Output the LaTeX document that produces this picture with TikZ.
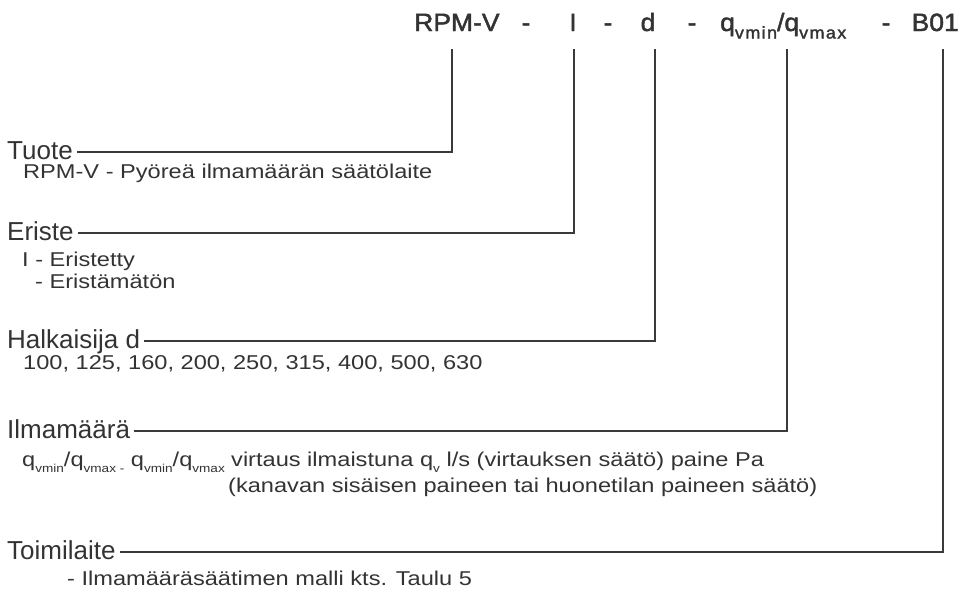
\documentclass[tikz,border=0pt]{standalone}
\usepackage{fontspec}
\setmainfont{Liberation Sans}
\newfontfamily\hdrfont[FakeStretch=1.06,FakeBold=1.8]{Liberation Sans}
\newfontfamily\subfont[FakeStretch=1.18]{Liberation Sans}
\newcommand\hlo[1]{\raisebox{-0.3em}{\fontsize{17}{17}\selectfont\addfontfeature{LetterSpace=8}#1}}
\newcommand\slo[1]{\raisebox{-0.3em}{\fontsize{11.5}{12}\selectfont #1}}
\definecolor{ink}{HTML}{333333}
\definecolor{wire}{HTML}{3A3A3A}
\begin{document}
\begin{tikzpicture}[x=1pt,y=-1pt,
  hdr/.style={inner sep=0pt,font=\hdrfont\fontsize{25}{29}\selectfont,text=ink},
  lab/.style={inner xsep=4pt,inner ysep=0pt,text height=14pt,text depth=0pt,font=\fontsize{26}{30}\selectfont,text=ink,anchor=base west},
  sub/.style={inner sep=0pt,font=\subfont\fontsize{20}{24}\selectfont,text=ink,anchor=base west},
  conn/.style={draw=wire,line width=2pt}]
\useasboundingbox (0,0) rectangle (962,595);
% header
\node[hdr,anchor=base west] (hRPM) at (414,31) {RPM-V};
\node[hdr,anchor=base] (hs1) at (526,31) {-};
\node[hdr,anchor=base] (hI) at (573,31) {I};
\node[hdr,anchor=base] (hs2) at (608,31) {-};
\node[hdr,anchor=base] (hd) at (648,31) {d};
\node[hdr,anchor=base] (hs3) at (692,31) {-};
\node[hdr,anchor=base west] (hq) at (720,31) {q\hlo{vmin}/q\hlo{vmax}};
\node[hdr,anchor=base] (hs4) at (886,31) {-};
\node[hdr,anchor=base east] (hB) at (959,31) {B01};
% tick tops
\coordinate (tRPM) at (452,49);
\coordinate (tI) at (574,49);
\coordinate (td) at (655,49);
\coordinate (tq) at (787,49);
\coordinate (tB) at (943,49);
% labels
\node[lab] (tuote) at (3,159) {Tuote};
\node[sub] (tuoteS) at (23,178) {RPM-V - Pyöreä ilmamäärän säätölaite};
\node[lab] (eriste) at (3,240) {Eriste};
\node[sub] (eristeS1) at (22,266) {I - Eristetty};
\node[sub] (eristeS2) at (35,288) {- Eristämätön};
\node[lab] (halk) at (3,348) {Halkaisija d};
\node[sub] (halkS) at (23,369) {100, 125, 160, 200, 250, 315, 400, 500, 630};
\node[lab] (ilma) at (3,438) {Ilmamäärä};
\node[sub] (ilmaS1a) at (22,466) {q\slo{vmin}/q\slo{vmax -} q\slo{vmin}/q\slo{vmax}};
\node[sub,anchor=base west] (ilmaS1b) at ([xshift=6pt]ilmaS1a.base east) {virtaus ilmaistuna q\slo{v} l/s (virtauksen säätö) paine Pa};
\node[sub,anchor=base west] (ilmaS2) at ([xshift=-3pt,yshift=-26pt]ilmaS1b.base west) {(kanavan sisäisen paineen tai huonetilan paineen säätö)};
\node[lab] (toimi) at (3,559) {Toimilaite};
\node[sub] (toimiS) at (67,585) {- Ilmamääräsäätimen malli kts. Taulu 5};
% connectors
\draw[conn] (tuote.east) -| (tRPM);
\draw[conn] (eriste.east) -| (tI);
\draw[conn] (halk.east) -| (td);
\draw[conn] (ilma.east) -| (tq);
\draw[conn] (toimi.east) -| (tB);
\end{tikzpicture}
\end{document}
